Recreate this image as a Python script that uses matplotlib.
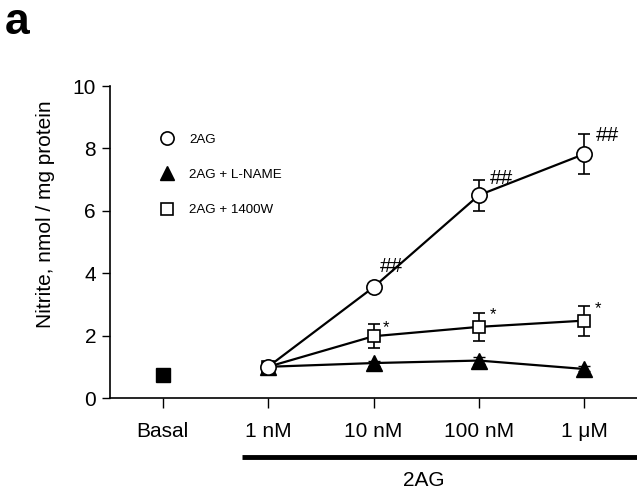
import matplotlib
matplotlib.use("Agg")
import matplotlib.pyplot as plt
from matplotlib.lines import Line2D

plt.rcParams['font.family'] = ['Liberation Sans', 'DejaVu Sans']

# data
doses = ['Basal', '1 nM', '10 nM', '100 nM', '1 \u03bcM']
basal = 0.75
x_treat = [1, 2, 3, 4]

ag = [1.0, 3.55, 6.5, 7.82]
ag_err = [0.12, 0.15, 0.5, 0.63]
lname = [1.0, 1.12, 1.2, 0.93]
lname_err = [0.05, 0.08, 0.1, 0.08]
w1400 = [1.0, 1.98, 2.28, 2.48]
w1400_err = [0.05, 0.38, 0.45, 0.48]

hash_pos = [(2.17, 4.23), (3.21, 7.02), (4.22, 8.4)]
star_pos = [(2.12, 2.24), (3.13, 2.66), (4.13, 2.85)]

fig = plt.figure(figsize=(6.37, 4.99), dpi=100)
ax = fig.add_axes([110 / 637, 101 / 499, 527 / 637, 312 / 499])

ax.errorbar(x_treat, lname, yerr=lname_err, color='black', lw=1.6,
            marker='^', ms=11, mfc='black', mec='black', capsize=4, elinewidth=1.2, zorder=3)
ax.errorbar(x_treat, w1400, yerr=w1400_err, color='black', lw=1.6,
            marker='s', ms=9, mfc='white', mec='black', mew=1.2, capsize=4, elinewidth=1.2, zorder=3)
ax.errorbar(x_treat, ag, yerr=ag_err, color='black', lw=1.6,
            marker='o', ms=11, mfc='white', mec='black', mew=1.2, capsize=4, elinewidth=1.2, zorder=4)
ax.plot([0], [basal], marker='s', ms=10.5, color='black', ls='none')

for x, y in hash_pos:
    ax.text(x, y, '##', fontsize=15, ha='center', va='center')
for x, y in star_pos:
    ax.text(x, y, '*', fontsize=12, ha='center', va='center')

ax.set_xlim(-0.5, 4.5)
ax.set_ylim(0, 10)
ax.set_xticks(range(5))
ax.set_xticklabels(doses, fontsize=15)
ax.set_yticks([0, 2, 4, 6, 8, 10])
ax.tick_params(axis='y', labelsize=15, length=6, width=1, pad=4)
ax.tick_params(axis='x', length=7, width=1, pad=10)
ax.spines['top'].set_visible(False)
ax.spines['right'].set_visible(False)
ax.spines['left'].set_linewidth(1.2)
ax.spines['bottom'].set_linewidth(1.2)
ax.set_ylabel('Nitrite, nmol / mg protein', fontsize=15)
ax.yaxis.set_label_coords(-0.105, 0.59)

handles = [
    Line2D([], [], ls='none', marker='o', ms=9.5, mfc='white', mec='black', mew=1.2),
    Line2D([], [], ls='none', marker='^', ms=9.5, mfc='black', mec='black'),
    Line2D([], [], ls='none', marker='s', ms=8.5, mfc='white', mec='black', mew=1.2),
]
ax.legend(handles, ['2AG', '2AG + L-NAME', '2AG + 1400W'], loc='upper left',
          bbox_to_anchor=(0.095, 0.848), frameon=False, fontsize=9.6,
          handlelength=1.0, handletextpad=1.2, labelspacing=1.72,
          borderpad=0, borderaxespad=0)

# bar marking the 2AG doses
ax.plot([0.75, 4.5], [-0.19, -0.19], color='black', lw=3.5,
        transform=ax.get_xaxis_transform(), clip_on=False, solid_capstyle='butt')
ax.text(2.48, -0.263, '2AG', fontsize=15, ha='center', va='center',
        transform=ax.get_xaxis_transform())

fig.text(5 / 637, 1 - 22 / 499, 'a', fontsize=32, fontweight='bold', va='center', ha='left')

fig.savefig('out.png', dpi=100)
